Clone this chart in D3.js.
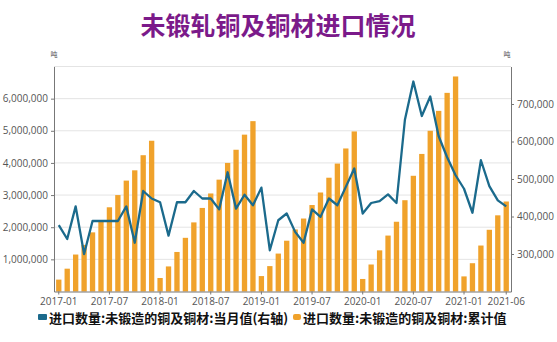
<!DOCTYPE html>
<html><head><meta charset="utf-8">
<script src="https://cdn.jsdelivr.net/npm/d3@7"></script>
<style>
html,body{margin:0;padding:0;background:#fff;}
svg{display:block;font-family:"Noto Sans CJK SC","Noto Sans",sans-serif;}
</style></head><body>
<svg id="c" width="557" height="342"></svg>
<script>
const months = [];
for (let y = 2017; y <= 2021; y++) for (let m = 1; m <= 12; m++) {
  if (y === 2021 && m > 6) break;
  months.push(y + "-" + String(m).padStart(2, "0"));
}
// 累计值 (吨), left axis
const cumulative = [
  370000, 710000, 1150000, 1450000, 1840000, 2180000, 2620000, 3000000, 3450000, 3770000, 4240000, 4690000,
  420000, 780000, 1230000, 1670000, 2150000, 2600000, 3050000, 3480000, 4000000, 4410000, 4880000, 5300000,
  480000, 790000, 1180000, 1580000, 1930000, 2270000, 2690000, 3080000, 3540000, 3980000, 4450000, 4980000,
  390000, 840000, 1280000, 1740000, 2170000, 2840000, 3600000, 4280000, 5000000, 5620000, 6180000, 6690000,
  470000, 880000, 1430000, 1920000, 2370000, 2800000
];
// 当月值 (吨), right axis
const monthly = [
  377000, 340000, 427000, 300000, 388000, 388000, 388000, 388000, 427000, 330000, 468000, 448000,
  438000, 349000, 438000, 438000, 468000, 448000, 448000, 419000, 518000, 421000, 458000, 430000,
  477000, 310000, 390000, 408000, 359000, 330000, 419000, 399000, 448000, 430000, 479000, 528000,
  408000, 436000, 441000, 459000, 436000, 658000, 760000, 668000, 720000, 614000, 558000, 510000,
  474000, 410000, 550000, 481000, 443000, 427000
];
const xTickLabels = ["2017-01","2017-07","2018-01","2018-07","2019-01","2019-07","2020-01","2020-07","2021-01","2021-06"];
const leftTicks = [1000000,2000000,3000000,4000000,5000000,6000000];
const rightTicks = [300000,400000,500000,600000,700000];
const seriesNames = ["进口数量:未锻造的铜及铜材:当月值(右轴)", "进口数量:未锻造的铜及铜材:累计值"];
const title = "未锻轧铜及铜材进口情况";

const colBar = "#F0A22B", colLine = "#1B6A8C";
const L = 54, R = 511, T = 66.5, B = 291.5;
const svg = d3.select("#c");

const x = d3.scaleBand().domain(months).range([L, R]).paddingInner(0.37).paddingOuter(0.25);
const yL = d3.scaleLinear().domain([0, 7000000]).range([B, T]);
const yR = d3.scaleLinear().domain([200000, 800000]).range([B, T]);

// title
svg.append("text").attr("x", 278).attr("y", 35).attr("text-anchor", "middle")
  .attr("font-size", 25).attr("font-weight", "bold").attr("fill", "#7B1A8A").text(title);

// gridlines
svg.append("g").selectAll("line").data(leftTicks.concat([7000000])).join("line")
  .attr("x1", L).attr("x2", R).attr("y1", d => yL(d)).attr("y2", d => yL(d))
  .attr("stroke", "#e4e4e4").attr("stroke-width", 1);

// bars
svg.append("g").selectAll("rect").data(months).join("rect")
  .attr("x", d => x(d)).attr("width", x.bandwidth())
  .attr("y", (d, i) => yL(cumulative[i])).attr("height", (d, i) => B - yL(cumulative[i]))
  .attr("fill", colBar);

// line
const line = d3.line().x((d, i) => x(months[i]) + x.bandwidth() / 2).y(d => yR(d));
svg.append("path").datum(monthly).attr("d", line).attr("fill", "none")
  .attr("stroke", colLine).attr("stroke-width", 2.3).attr("stroke-linejoin", "round");

// axes
const axL = svg.append("g").attr("transform", `translate(${L},0)`)
  .call(d3.axisLeft(yL).tickValues(leftTicks).tickFormat(d3.format(",")).tickSize(3).tickSizeOuter(0));
const axR = svg.append("g").attr("transform", `translate(${R},0)`)
  .call(d3.axisRight(yR).tickValues(rightTicks).tickFormat(d3.format(",")).tickSize(3).tickSizeOuter(0));
const axB = svg.append("g").attr("transform", `translate(0,${B})`)
  .call(d3.axisBottom(x).tickValues(xTickLabels).tickSize(3).tickSizeOuter(0));
[axL, axR, axB].forEach(a => {
  a.select(".domain").attr("stroke", "#777");
  a.selectAll(".tick line").attr("stroke", "#777");
  a.selectAll("text").attr("fill", "#555").attr("font-size", 10)
    .attr("font-family", "'Open Sans','Noto Sans',sans-serif");
});
axB.selectAll("text").attr("dy", "0.7em");

// units
svg.append("text").attr("x", L).attr("y", 57).attr("text-anchor", "middle").attr("font-size", 7).attr("fill", "#555").text("吨");
svg.append("text").attr("x", R - 4).attr("y", 57).attr("text-anchor", "middle").attr("font-size", 7).attr("fill", "#555").text("吨");

// legend
const lg = svg.append("g");
lg.append("rect").attr("x", 38).attr("y", 314).attr("width", 9).attr("height", 6).attr("rx", 1).attr("fill", colLine);
lg.append("text").attr("x", 49).attr("y", 322.5).attr("font-size", 13).attr("font-weight", "bold").attr("fill", "#111").text(seriesNames[0]);
lg.append("rect").attr("x", 293).attr("y", 314).attr("width", 8).attr("height", 6).attr("rx", 2).attr("fill", colBar);
lg.append("text").attr("x", 303).attr("y", 322.5).attr("font-size", 13).attr("font-weight", "bold").attr("fill", "#111").text(seriesNames[1]);
</script>
</body></html>
